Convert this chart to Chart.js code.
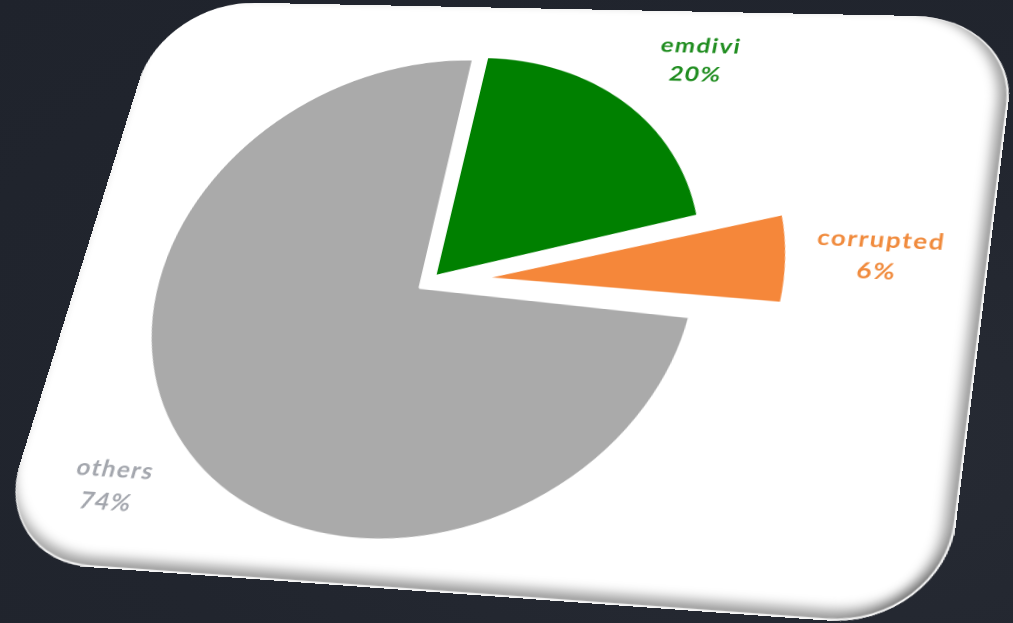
<!DOCTYPE html>
<html>
<head>
<meta charset="utf-8">
<script src="https://cdn.jsdelivr.net/npm/chart.js@4/dist/chart.umd.min.js"></script>
<style>
  html, body { margin: 0; padding: 0; }
  body {
    width: 1013px; height: 623px; overflow: hidden;
    background: radial-gradient(ellipse at 80% 70%, #272b34 0%, #21252e 60%, #1f232c 100%);
    position: relative;
  }
  #card {
    position: absolute; left: 0; top: 0;
    width: 880px; height: 640px;
    background: #fff;
    border-radius: 100px;
    transform-origin: 0 0;
    box-shadow:
      inset 0 -2px 1px rgba(255,255,255,0.9),
      inset -2px 0 1px rgba(255,255,255,0.9),
      inset 0 -16px 12px -6px rgba(0,0,0,0.38),
      inset -16px 0 12px -6px rgba(0,0,0,0.38);
  }
  #chart { position: absolute; left: 0; top: 0; filter: blur(0.5px); }
</style>
</head>
<body>
<div id="card"><canvas id="chart" width="880" height="640"></canvas></div>
<script>
// dados do gráfico
const categorias = ['emdivi', 'corrupted', 'others'];
const valores = [20, 6, 74];
const rotulosPct = ['20%', '6%', '74%'];
const cores = ['#008000', '#f5873a', '#aaaaaa'];
const coresTexto = ['#1e8c1e', '#f08a3c', '#a3a6ad'];

// cartão em perspectiva: retângulo local -> quadrilátero na página
const card = document.getElementById('card');
const W = 880, H = 640;
const quad = [[164, 1], [1019, 18], [943, 629], [-10, 560]]; // TL, TR, BR, BL

function homografia(q) {
    const [x0, y0] = q[0], [x1, y1] = q[1], [x2, y2] = q[2], [x3, y3] = q[3];
    const dx1 = x1 - x2, dx2 = x3 - x2, dx3 = x0 - x1 + x2 - x3;
    const dy1 = y1 - y2, dy2 = y3 - y2, dy3 = y0 - y1 + y2 - y3;
    const den = dx1 * dy2 - dx2 * dy1;
    const g = (dx3 * dy2 - dx2 * dy3) / den;
    const h = (dx1 * dy3 - dx3 * dy1) / den;
    const a = x1 - x0 + g * x1, b = x3 - x0 + h * x3, c = x0;
    const d = y1 - y0 + g * y1, e = y3 - y0 + h * y3, f = y0;
    return [a / W, d / W, 0, g / W,  b / H, e / H, 0, h / H,  0, 0, 1, 0,  c, f, 0, 1];
}
card.style.transform = 'matrix3d(' + homografia(quad).join(',') + ')';

// rótulos fora das fatias
const rotulos = {
    id: 'rotulos',
    afterDatasetsDraw(chart, args, opts) {
        const ctx = chart.ctx;
        const arcs = chart.getDatasetMeta(0).data;
        ctx.save();
        ctx.font = 'bold 24px Lato, "Open Sans", sans-serif';
        ctx.letterSpacing = '1.5px';
        ctx.textAlign = 'center';
        ctx.textBaseline = 'middle';
        arcs.forEach((arc, i) => {
            const meio = (arc.startAngle + arc.endAngle) / 2;
            const off = (arc.options.offset || 0) / 4;
            const dist = arc.outerRadius + off + opts.distancias[i];
            const x = arc.x + Math.cos(meio) * dist + opts.ajustes[i][0];
            const y = arc.y + Math.sin(meio) * dist + opts.ajustes[i][1];
            ctx.fillStyle = coresTexto[i];
            ctx.fillText(categorias[i], x, y - 17);
            ctx.fillText(rotulosPct[i], x, y + 17);
        });
        ctx.restore();
    }
};

new Chart(document.getElementById('chart'), {
    type: 'pie',
    data: {
        labels: categorias,
        datasets: [{
            data: valores,
            backgroundColor: cores,
            borderColor: '#ffffff',
            borderWidth: 3,
            offset: [30, 210, 40],
            radius: 255
        }]
    },
    options: {
        responsive: false,
        animation: false,
        devicePixelRatio: 2,
        layout: { padding: { left: 20, top: 24, right: 188, bottom: 20 } },
        plugins: {
            legend: { display: false },
            tooltip: { enabled: false },
            rotulos: {
                distancias: [74, 131, 84],
                ajustes: [[21, 9], [-12, 6], [-5, -4]]
            }
        }
    },
    plugins: [rotulos]
});
</script>
</body>
</html>
